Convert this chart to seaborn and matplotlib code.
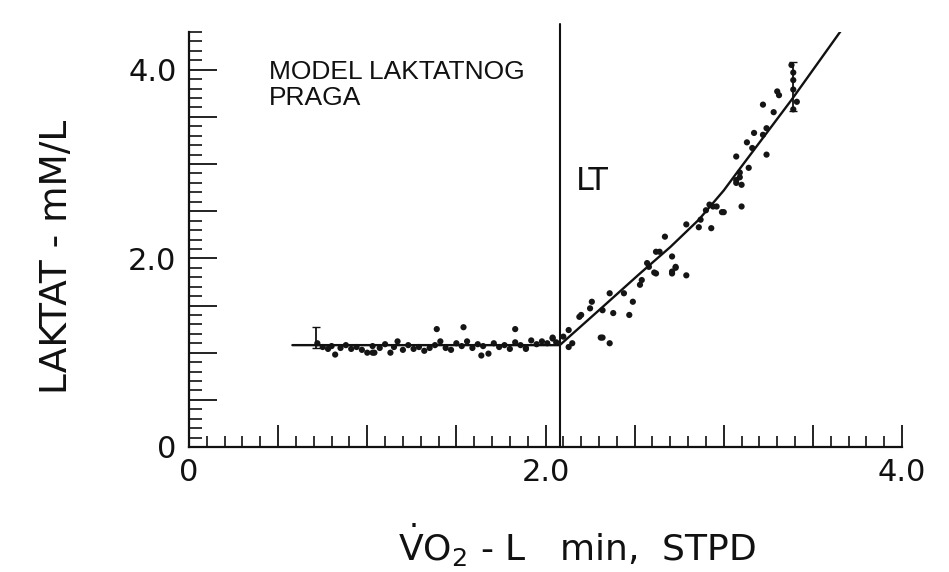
import numpy as np
import pandas as pd
import matplotlib
matplotlib.use("Agg")
import matplotlib.pyplot as plt
from matplotlib.ticker import FixedLocator, FixedFormatter, MultipleLocator
import seaborn as sns

# ---- data ----
# flat (below threshold) scatter
flat_x = [0.72, 0.75, 0.78, 0.80, 0.82, 0.85, 0.88, 0.91, 0.94, 0.97, 1.00, 1.03,
          1.04, 1.07, 1.10, 1.13, 1.15, 1.17, 1.20, 1.23, 1.26, 1.29, 1.32, 1.35,
          1.38, 1.41, 1.44, 1.47, 1.50, 1.53, 1.56, 1.59, 1.62, 1.65, 1.68, 1.71,
          1.74, 1.77, 1.80, 1.83, 1.86, 1.89, 1.92, 1.95, 1.98, 2.01, 2.04, 2.06]
flat_y = [1.10, 1.06, 1.04, 1.07, 0.98, 1.05, 1.08, 1.04, 1.06, 1.03, 1.00, 1.07,
          1.00, 1.05, 1.09, 1.00, 1.06, 1.12, 1.03, 1.08, 1.04, 1.06, 1.02, 1.05,
          1.08, 1.12, 1.05, 1.03, 1.10, 1.07, 1.12, 1.05, 1.09, 1.07, 0.99, 1.10,
          1.06, 1.08, 1.04, 1.11, 1.08, 1.05, 1.13, 1.09, 1.12, 1.10, 1.15, 1.11]
# outliers around the plateau
out_x = [1.39, 1.54, 1.83, 1.64, 1.89, 1.03, 2.15, 2.31, 2.36]
out_y = [1.25, 1.27, 1.25, 0.97, 1.04, 1.00, 1.10, 1.16, 1.10]
# rising (above threshold) scatter
rise_x = [2.13, 2.10, 2.04, 2.13, 2.19, 2.20, 2.25, 2.26, 2.32, 2.32, 2.36, 2.38,
          2.44, 2.47, 2.49, 2.53, 2.54, 2.57, 2.58, 2.61, 2.62, 2.62, 2.64, 2.67,
          2.71, 2.71, 2.71, 2.73, 2.73, 2.79, 2.79, 2.86, 2.87, 2.90, 2.92, 2.93,
          2.94, 2.96, 2.99, 3.00, 3.07, 3.07, 3.07, 3.09, 3.09, 3.10, 3.10, 3.13,
          3.14, 3.16, 3.17, 3.22, 3.22, 3.24, 3.24, 3.28, 3.30, 3.31, 3.38, 3.39,
          3.39, 3.39, 3.41, 3.39]
rise_y = [1.06, 1.17, 1.16, 1.24, 1.38, 1.40, 1.47, 1.54, 1.16, 1.45, 1.63, 1.42,
          1.63, 1.40, 1.54, 1.72, 1.77, 1.95, 1.91, 1.85, 1.84, 2.07, 2.07, 2.23,
          1.84, 2.02, 1.86, 1.91, 1.90, 1.82, 2.36, 2.33, 2.41, 2.51, 2.57, 2.32,
          2.55, 2.55, 2.49, 2.49, 2.83, 3.08, 2.80, 2.91, 2.86, 2.78, 2.55, 3.23,
          2.96, 3.17, 3.33, 3.31, 3.63, 3.38, 3.10, 3.55, 3.77, 3.73, 4.05, 3.97,
          3.89, 3.79, 3.66, 3.58]
# error bars
err_x = [0.71, 3.39]
err_y = [1.16, 3.82]
err_e = [0.11, 0.26]
# fitted lactate curve
curve_x = [0.58, 2.08, 2.30, 2.53, 2.70, 2.86, 3.00, 3.09, 3.38, 3.66]
curve_y = [1.08, 1.08, 1.45, 1.84, 2.12, 2.41, 2.72, 2.95, 3.68, 4.42]
lt_x = 2.08

x_ticklabels = {0.0: "0", 2.0: "2.0", 4.0: "4.0"}
y_ticklabels = {0.0: "0", 2.0: "2.0", 4.0: "4.0"}

# ---- plot ----
sns.set_theme(style="white")
plt.rcParams["font.family"] = ["DejaVu Sans"]
plt.rcParams["mathtext.fontset"] = "dejavusans"

fig = plt.figure(figsize=(9.49, 5.72), dpi=100)
ax = fig.add_axes([189 / 949, 1 - 447 / 572, 713 / 949, 415 / 572])

pts = pd.DataFrame({"x": flat_x + out_x + rise_x, "y": flat_y + out_y + rise_y})
sns.scatterplot(data=pts, x="x", y="y", ax=ax, color="#151515", s=20,
                edgecolor="none", linewidth=0, zorder=3)
curve = pd.DataFrame({"x": curve_x, "y": curve_y})
sns.lineplot(data=curve, x="x", y="y", ax=ax, color="#111111", lw=1.7,
             sort=False, estimator=None, zorder=4)
ax.errorbar(err_x, err_y, yerr=err_e, fmt="none", ecolor="#111111",
            elinewidth=1.3, capsize=3, zorder=4)
ax.plot([lt_x, lt_x], [0, 4.48], color="#111111", lw=1.5, clip_on=False, zorder=4)

ax.set_xlim(0, 4.0)
ax.set_ylim(0, 4.4)

for s in ["top", "right"]:
    ax.spines[s].set_visible(False)
for s in ["left", "bottom"]:
    ax.spines[s].set_visible(True)
    ax.spines[s].set_color("#111111")
    ax.spines[s].set_linewidth(1.6)

xmaj = list(np.arange(0, 4.01, 0.5))
ymaj = list(np.arange(0, 4.41, 0.5))
ax.xaxis.set_major_locator(FixedLocator(xmaj))
ax.xaxis.set_major_formatter(FixedFormatter(
    [x_ticklabels.get(round(v, 1), "") for v in xmaj]))
ax.yaxis.set_major_locator(FixedLocator(ymaj))
ax.yaxis.set_major_formatter(FixedFormatter(
    [y_ticklabels.get(round(v, 1), "") for v in ymaj]))
ax.xaxis.set_minor_locator(MultipleLocator(0.1))
ax.yaxis.set_minor_locator(MultipleLocator(0.1))

ax.tick_params(axis="x", which="major", direction="in", length=16, width=1.3,
               color="#111111", labelsize=22, pad=8, labelcolor="#111111",
               bottom=True)
ax.tick_params(axis="x", which="minor", direction="in", length=8, width=1.2,
               color="#111111", bottom=True)
ax.tick_params(axis="y", which="major", direction="in", length=20, width=1.3,
               color="#111111", labelsize=22, pad=9, labelcolor="#111111",
               left=True)
ax.tick_params(axis="y", which="minor", direction="in", length=9, width=1.2,
               color="#111111", left=True)

ax.set_ylabel("LAKTAT - mM/L", fontsize=27, color="#111111", va="center")
ax.yaxis.set_label_coords(-0.185, 0.458)
ax.set_xlabel(r"$\dot{\mathrm{V}}\mathrm{O}_2$ - L   min,  STPD", fontsize=26,
              color="#111111", va="center")
ax.xaxis.set_label_coords(0.544, -0.236)

ax.text(0.45, 4.1, "MODEL LAKTATNOG\nPRAGA", fontsize=19,
        family=["Liberation Sans"], color="#111111", va="top", ha="left",
        linespacing=1.1)
ax.text(2.17, 2.73, "LT", fontsize=23, color="#111111", va="baseline", ha="left")

fig.savefig("out.png", dpi=100, facecolor="white")
